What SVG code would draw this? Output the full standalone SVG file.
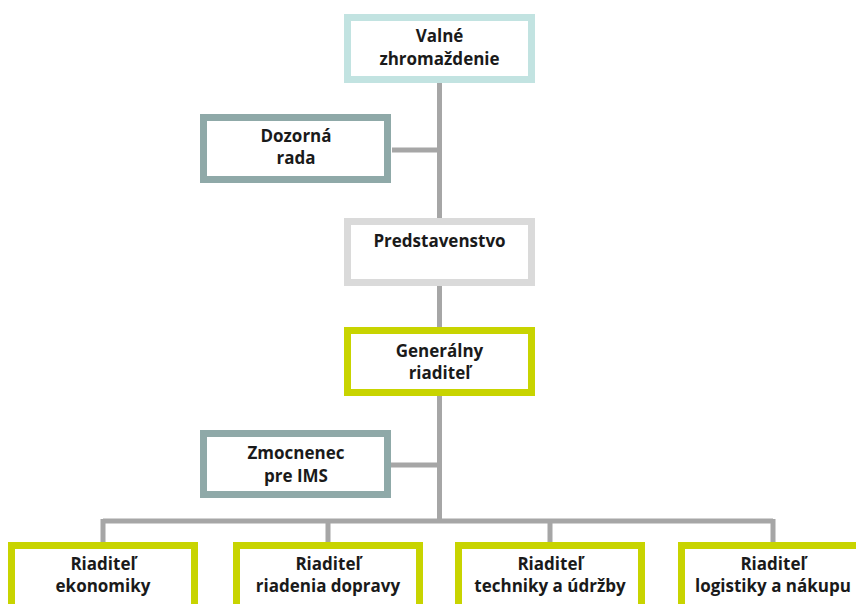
<svg xmlns="http://www.w3.org/2000/svg" width="856" height="604" viewBox="0 0 856 604">
<style>
.box{fill:#fff;stroke-width:7}
.b1{stroke:#c2e3e1}
.b2{stroke:#8fa9a8}
.b3{stroke:#dadada}
.b4{stroke:#c8d400}
.t{font-family:"Open Sans","Liberation Sans",sans-serif;font-weight:bold;font-size:17px;fill:#1a1a1a;text-anchor:middle}
.c{stroke:#a6a6a6;stroke-width:5;fill:none}
</style>
<rect width="856" height="604" fill="#fff"/>
<g id="connectors">
<path class="c" d="M439.5 83V218M439.5 286V327M439.5 396V521M392 150H439.5M391 465H439.5M103 521H773M103 519V542M328 521V542M550 521V542M773 519V542"/>
</g>
<g id="valne">
<rect class="box b1" x="347.5" y="17.5" width="184" height="62"/>
<text class="t" x="439.5" y="42">Valné</text>
<text class="t" x="439.5" y="65">zhromaždenie</text>
</g>
<g id="dozorna">
<rect class="box b2" x="203.5" y="117.5" width="184" height="62"/>
<text class="t" x="296" y="142">Dozorná</text>
<text class="t" x="296" y="164">rada</text>
</g>
<g id="predstavenstvo">
<rect class="box b3" x="347.5" y="221.5" width="184" height="61"/>
<text class="t" x="439.5" y="247">Predstavenstvo</text>
</g>
<g id="generalny">
<rect class="box b4" x="347.5" y="330.5" width="184" height="62"/>
<text class="t" x="439.5" y="357">Generálny</text>
<text class="t" x="439.5" y="379">riaditeľ</text>
</g>
<g id="zmocnenec">
<rect class="box b2" x="203.5" y="433.5" width="184" height="61"/>
<text class="t" x="296" y="459">Zmocnenec</text>
<text class="t" x="296" y="482">pre IMS</text>
</g>
<g id="ekonomika">
<rect class="box b4" x="11.5" y="545.5" width="183" height="62"/>
<text class="t" x="103" y="570">Riaditeľ</text>
<text class="t" x="103" y="592">ekonomiky</text>
</g>
<g id="doprava">
<rect class="box b4" x="236.5" y="545.5" width="183" height="62"/>
<text class="t" x="328" y="570">Riaditeľ</text>
<text class="t" x="328" y="592">riadenia dopravy</text>
</g>
<g id="technika">
<rect class="box b4" x="458.5" y="545.5" width="183" height="62"/>
<text class="t" x="550" y="570">Riaditeľ</text>
<text class="t" x="550" y="592">techniky a údržby</text>
</g>
<g id="logistika">
<rect class="box b4" x="681.5" y="545.5" width="183" height="62"/>
<text class="t" x="773" y="570">Riaditeľ</text>
<text class="t" x="773" y="592">logistiky a nákupu</text>
</g>
</svg>
